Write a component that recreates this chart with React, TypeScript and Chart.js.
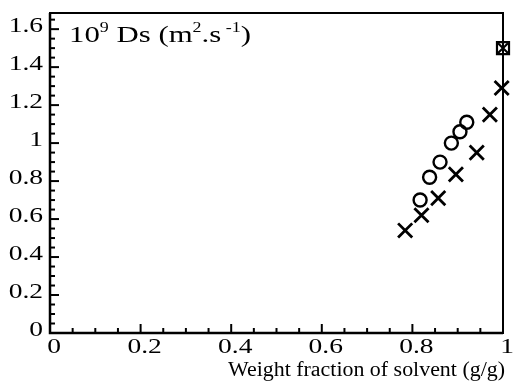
import React, { useEffect, useRef } from "react";
import { Chart, registerables } from "chart.js";

Chart.register(...registerables);

const crossX = [0.784, 0.82, 0.857, 0.896, 0.942, 0.971, 0.997, 1.0];
const crossY = [0.54, 0.62, 0.71, 0.835, 0.95, 1.15, 1.29, 1.5];
const circleX = [0.817, 0.838, 0.861, 0.886, 0.905, 0.92];
const circleY = [0.70, 0.82, 0.90, 1.0, 1.06, 1.11];
const squareX = [1.0];
const squareY = [1.5];
const xTicks = [0, 0.2, 0.4, 0.6, 0.8, 1];
const yTicks = [0, 0.2, 0.4, 0.6, 0.8, 1, 1.2, 1.4, 1.6];
const X_MIN = 0, X_MAX = 1, Y_MIN = 0, Y_MAX = 1.685;
const MINOR_STEP = 0.05;
const xTitle = "Weight fraction of solvent (g/g)";

const SERIF = "'Liberation Serif', 'Times New Roman', serif";
const STRETCH = 1.25;

function fmt(v: number) {
  return String(Math.round(v * 10) / 10);
}

function drawStretched(ctx: any, text: string, x: number, y: number, sx: number, align: string) {
  ctx.save();
  ctx.translate(x, y);
  ctx.scale(sx, 1);
  ctx.textAlign = align;
  ctx.fillText(text, 0, 0);
  ctx.restore();
}

const framePlugin = {
  id: "frame",
  afterDraw(chart: any) {
    const { ctx, chartArea: a, scales } = chart;
    const xs = scales.x, ys = scales.y;
    ctx.save();
    ctx.strokeStyle = "#000";
    ctx.lineWidth = 2;
    ctx.strokeRect(a.left, a.top, a.right - a.left, a.bottom - a.top);
    ctx.lineWidth = 2.5;
    ctx.beginPath();
    ctx.moveTo(a.left, a.top);
    ctx.lineTo(a.left, a.bottom);
    ctx.lineTo(a.right, a.bottom);
    ctx.stroke();
    ctx.lineWidth = 2;
    const nX = Math.round((X_MAX - X_MIN) / MINOR_STEP);
    for (let i = 0; i <= nX; i++) {
      const v = X_MIN + i * MINOR_STEP;
      const major = i % 4 === 0;
      const px = xs.getPixelForValue(v);
      ctx.beginPath();
      ctx.moveTo(px, a.bottom);
      ctx.lineTo(px, a.bottom - (major ? 9 : 5));
      ctx.stroke();
    }
    const nY = Math.floor((Y_MAX - Y_MIN) / MINOR_STEP + 1e-6);
    for (let i = 0; i <= nY; i++) {
      const v = Y_MIN + i * MINOR_STEP;
      const major = i % 4 === 0;
      const py = ys.getPixelForValue(v);
      ctx.beginPath();
      ctx.moveTo(a.left, py);
      ctx.lineTo(a.left + (major ? 9 : 5), py);
      ctx.stroke();
    }

    ctx.fillStyle = "#000";

    // tick labels
    ctx.font = `22px ${SERIF}`;
    ctx.textBaseline = "middle";
    for (const v of yTicks) {
      drawStretched(ctx, fmt(v), a.left - 7, ys.getPixelForValue(v) - 3, STRETCH, "right");
    }
    for (const v of xTicks) {
      drawStretched(ctx, fmt(v), xs.getPixelForValue(v) + 4, a.bottom + 14, STRETCH, "center");
    }

    // y title inside plot
    ctx.textBaseline = "alphabetic";
    ctx.textAlign = "left";
    const base = 42;
    const runs: [string, number, number][] = [
      ["10", 24, 0],
      ["9", 14, -10],
      [" Ds (m", 24, 0],
      ["2", 14, -10],
      [".s", 24, 0],
      [" -1", 14, -10],
      [")", 24, 0],
    ];
    let total = 0;
    for (const [t, size] of runs) {
      ctx.font = `${size}px ${SERIF}`;
      total += ctx.measureText(t).width;
    }
    const tsx = 182 / total;
    let x = a.left + 19;
    for (const [t, size, dy] of runs) {
      ctx.font = `${size}px ${SERIF}`;
      drawStretched(ctx, t, x, base + dy, tsx, "left");
      x += ctx.measureText(t).width * tsx;
    }

    // x title
    ctx.font = `20px ${SERIF}`;
    const w = ctx.measureText(xTitle).width;
    drawStretched(ctx, xTitle, a.right + 2, 376, 277 / w, "right");
    ctx.restore();
  },
};

export default function App() {
  const ref = useRef<HTMLCanvasElement>(null);
  useEffect(() => {
    document.body.style.margin = "0";
    const toPts = (xs: number[], ys: number[]) => xs.map((x, i) => ({ x, y: ys[i] }));
    const chart = new Chart(ref.current!, {
      type: "scatter",
      data: {
        datasets: [
          {
            data: toPts(crossX, crossY),
            pointStyle: "crossRot",
            pointRadius: (c: any) => (c.dataIndex === crossX.length - 1 ? 7 : 10),
            borderColor: "#000",
            pointBorderWidth: (c: any) => (c.dataIndex === crossX.length - 1 ? 2.2 : 2.8),
            backgroundColor: "transparent",
            clip: false,
          } as any,
          {
            data: toPts(circleX, circleY),
            pointStyle: "circle",
            pointRadius: 6.5,
            borderColor: "#000",
            pointBorderWidth: 2.4,
            backgroundColor: "transparent",
            clip: false,
          } as any,
          {
            data: toPts(squareX, squareY),
            pointStyle: "rect",
            pointRadius: 8.5,
            borderColor: "#000",
            pointBorderWidth: 2.2,
            backgroundColor: "transparent",
            clip: false,
          } as any,
        ],
      },
      options: {
        animation: false,
        responsive: true,
        maintainAspectRatio: false,
        layout: { padding: { left: 0, right: 13, top: 13, bottom: 0 } },
        plugins: { legend: { display: false }, tooltip: { enabled: false }, title: { display: false } },
        scales: {
          x: {
            type: "linear",
            min: X_MIN,
            max: X_MAX,
            grid: { display: false, drawTicks: false },
            border: { display: false },
            afterBuildTicks: (s: any) => { s.ticks = xTicks.map((v) => ({ value: v })); },
            afterFit: (s: any) => { s.height = 50; },
            ticks: { display: false },
          },
          y: {
            type: "linear",
            min: Y_MIN,
            max: Y_MAX,
            grid: { display: false, drawTicks: false },
            border: { display: false },
            afterBuildTicks: (s: any) => { s.ticks = yTicks.map((v) => ({ value: v })); },
            afterFit: (s: any) => { s.width = 50; },
            ticks: { display: false },
          },
        },
      },
      plugins: [framePlugin],
    });
    return () => chart.destroy();
  }, []);
  return (
    <div style={{ position: "fixed", left: 0, top: 0, width: 516, height: 383 }}>
      <canvas ref={ref} />
    </div>
  );
}
